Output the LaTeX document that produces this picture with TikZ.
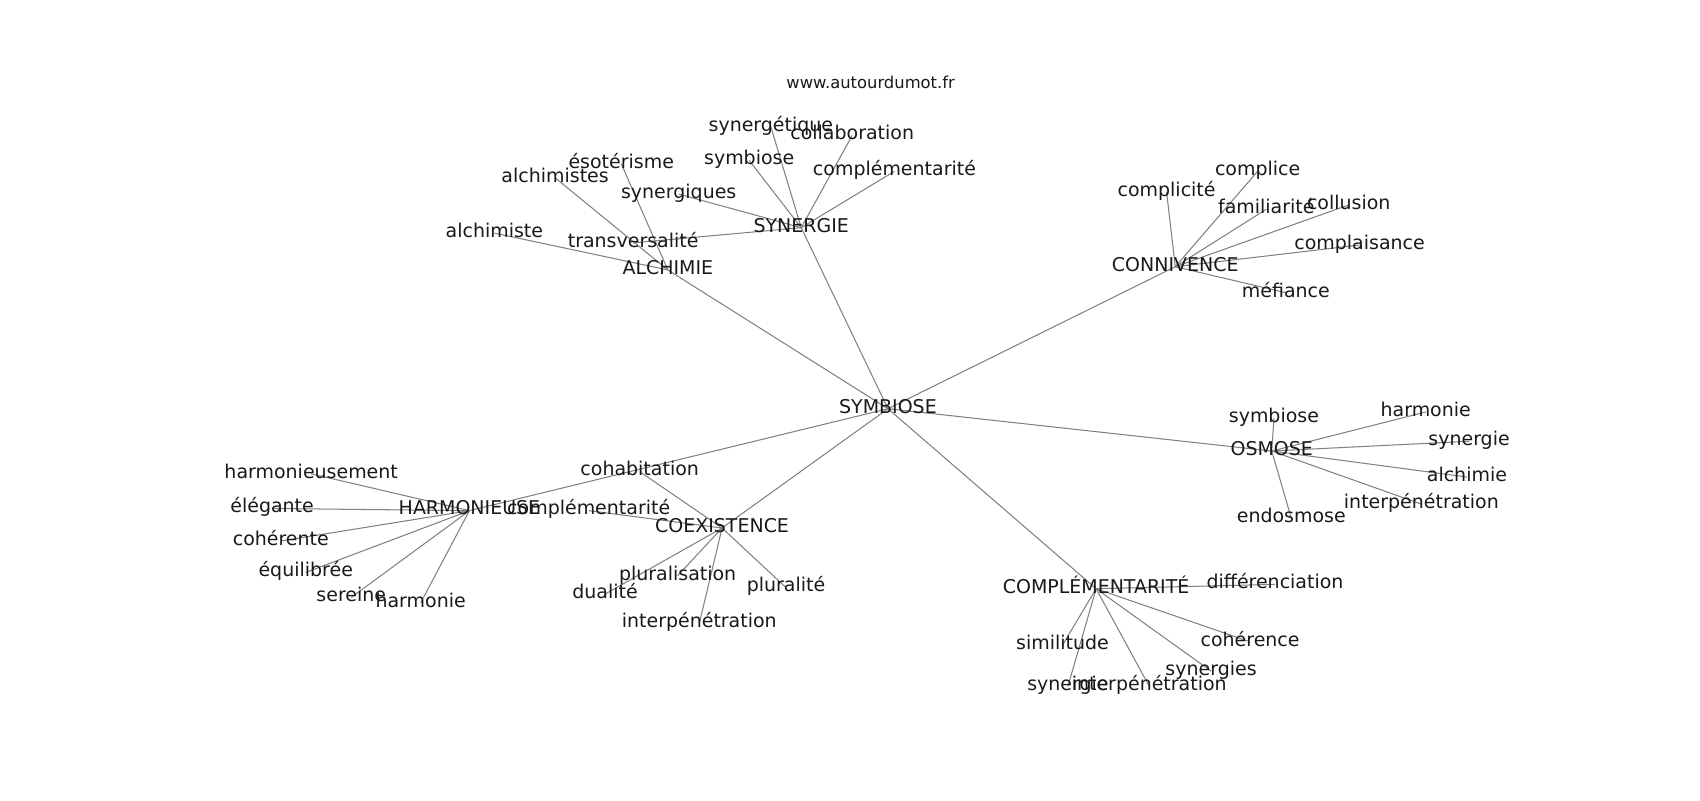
\documentclass[tikz,border=0pt]{standalone}
\usepackage{fontspec}
\setmainfont{DejaVu Sans}
\usetikzlibrary{backgrounds}
\tikzset{
  lbl/.style={font=\fontsize{17.5}{21}\selectfont, inner sep=0pt, text height=13pt, text depth=5pt, anchor=center, yshift=-3pt, text=black!90},
  ttl/.style={font=\fontsize{15.1}{18}\selectfont, inner sep=0pt, anchor=center, text=black!90},
  edge/.style={draw=black!50, line width=0.95pt}
}
\begin{document}
\begin{tikzpicture}[x=1pt,y=-1pt]
\useasboundingbox (0,0) rectangle (1568,738);
\node[ttl] (www) at (803,76) {www.autourdumot.fr};
% centre
\node[lbl] (sym) at (819,374) {SYMBIOSE};
% SYNERGIE
\node[lbl] (syn) at (739,207) {SYNERGIE};
\node[lbl] (syneg) at (711,114) {synergétique};
\node[lbl] (collab) at (786,122) {collaboration};
\node[lbl] (symA) at (691,145) {symbiose};
\node[lbl] (complA) at (825,155) {complémentarité};
\node[lbl] (synq) at (626,176) {synergiques};
\node[lbl] (transv) at (584,221) {transversalité};
% ALCHIMIE
\node[lbl] (alc) at (616,246) {ALCHIMIE};
\node[lbl] (esot) at (573,148) {ésotérisme};
\node[lbl] (alcs) at (512,161) {alchimistes};
\node[lbl] (alc1) at (456,212) {alchimiste};
% CONNIVENCE
\node[lbl] (conn) at (1084,243) {CONNIVENCE};
\node[lbl] (cplice) at (1160,155) {complice};
\node[lbl] (cplcite) at (1076,174) {complicité};
\node[lbl] (famil) at (1168,190) {familiarité};
\node[lbl] (collus) at (1244,186) {collusion};
\node[lbl] (cplais) at (1254,223) {complaisance};
\node[lbl] (mef) at (1186,267) {méfiance};
% OSMOSE
\node[lbl] (osm) at (1173,413) {OSMOSE};
\node[lbl] (symB) at (1175,383) {symbiose};
\node[lbl] (harmB) at (1315,377) {harmonie};
\node[lbl] (synB) at (1355,404) {synergie};
\node[lbl] (alcB) at (1353,437) {alchimie};
\node[lbl] (interB) at (1311,462) {interpénétration};
\node[lbl] (endo) at (1191,475) {endosmose};
% COMPLEMENTARITE
\node[lbl] (cmp) at (1011,540) {COMPLÉMENTARITÉ};
\node[lbl] (diff) at (1176,536) {différenciation};
\node[lbl] (simil) at (980,592) {similitude};
\node[lbl] (coher) at (1153,589) {cohérence};
\node[lbl] (syns) at (1117,616) {synergies};
\node[lbl] (synC) at (985,630) {synergie};
\node[lbl] (interC) at (1060,630) {interpénétration};
% COEXISTENCE
\node[lbl] (coex) at (666,484) {COEXISTENCE};
\node[lbl] (cohab) at (590,432) {cohabitation};
\node[lbl] (complB) at (543,468) {complémentarité};
\node[lbl] (plurs) at (625,528) {pluralisation};
\node[lbl] (dual) at (558,545) {dualité};
\node[lbl] (plur) at (725,539) {pluralité};
\node[lbl] (interA) at (645,572) {interpénétration};
% HARMONIEUSE
\node[lbl] (harm) at (433,468) {HARMONIEUSE};
\node[lbl] (harmt) at (287,434) {harmonieusement};
\node[lbl] (eleg) at (251,466) {élégante};
\node[lbl] (coh) at (259,496) {cohérente};
\node[lbl] (equi) at (282,525) {équilibrée};
\node[lbl] (ser) at (324,548) {sereine};
\node[lbl] (harmA) at (388,553) {harmonie};
\begin{scope}[on background layer]
\fill[white] (0,0) rectangle (1568,738);
\foreach \a/\b in {sym/syn, sym/alc, sym/conn, sym/osm, sym/cmp, sym/coex, sym/harm,
  syn/syneg, syn/collab, syn/symA, syn/complA, syn/synq, syn/transv,
  alc/esot, alc/alcs, alc/alc1,
  conn/cplice, conn/cplcite, conn/famil, conn/collus, conn/cplais, conn/mef,
  osm/symB, osm/harmB, osm/synB, osm/alcB, osm/interB, osm/endo,
  cmp/diff, cmp/simil, cmp/coher, cmp/syns, cmp/synC, cmp/interC,
  coex/cohab, coex/complB, coex/plurs, coex/dual, coex/plur, coex/interA,
  harm/harmt, harm/eleg, harm/coh, harm/equi, harm/ser, harm/harmA}
  \draw[edge] (\a.center) -- (\b.center);
\end{scope}
\end{tikzpicture}
\end{document}
